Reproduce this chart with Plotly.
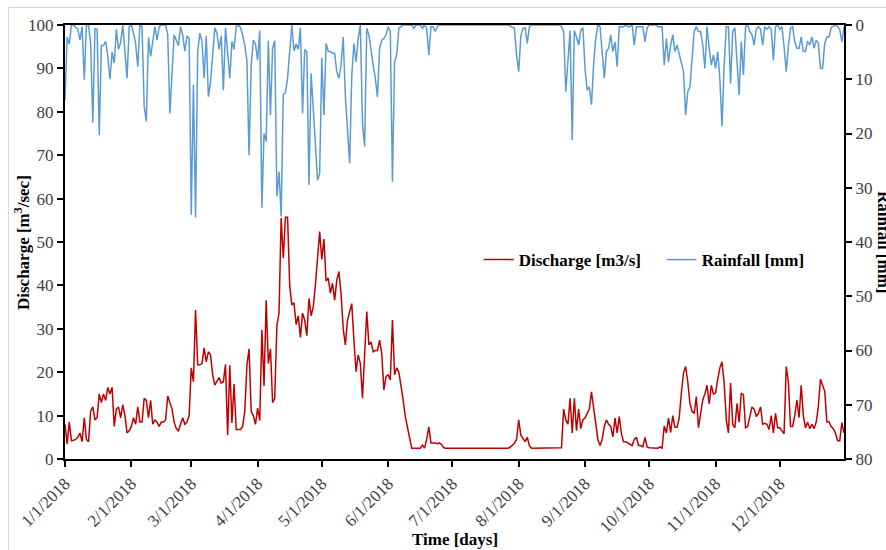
import pandas as pd
import plotly.graph_objects as go

# Daily discharge [m3/s], one list per month of 2018
dis_jan = [8.0, 3.5, 8.5, 4.2, 4.3, 4.5, 5.0, 6.0, 4.0, 9.5, 4.5, 4.0, 11.0, 12.0, 9.0, 9.5,
           15.0, 13.0, 15.0, 13.5, 16.5, 15.0, 16.5, 7.5, 11.5, 12.0, 9.5, 12.5, 10.0, 6.0, 6.5]
dis_feb = [7.5, 9.5, 8.0, 12.0, 8.5, 8.5, 14.0, 13.5, 9.5, 13.5, 8.0, 9.0, 8.5, 7.5, 8.5, 8.5,
           9.0, 14.5, 13.0, 11.5, 8.5, 7.0, 6.5, 8.0, 9.5, 8.0, 8.5, 10.0]
dis_mar = [21.0, 17.8, 34.3, 21.7, 21.7, 22.0, 25.6, 22.4, 24.7, 24.0, 19.4, 17.0, 18.0, 18.8,
           17.5, 17.8, 21.8, 5.5, 21.6, 8.3, 17.3, 6.8, 6.8, 6.8, 7.5, 10.9, 21.6, 25.4, 11.0,
           10.0, 8.0]
dis_apr = [11.7, 8.9, 29.7, 16.8, 36.6, 22.0, 25.4, 13.0, 14.0, 30.7, 33.6, 55.5, 46.3, 55.7,
           55.7, 40.0, 35.5, 36.0, 31.0, 33.0, 28.0, 33.6, 32.0, 28.4, 37.0, 33.0, 35.0, 40.0,
           46.0, 52.4]
dis_may = [46.0, 50.7, 41.0, 41.7, 38.2, 40.5, 36.6, 41.2, 43.2, 38.0, 30.0, 26.3, 32.0, 34.3,
           35.8, 27.4, 20.1, 24.0, 22.0, 14.0, 25.6, 34.0, 26.3, 27.0, 24.7, 25.0, 25.0, 27.4,
           24.3, 15.9, 19.0]
dis_jun = [19.4, 18.2, 32.0, 19.4, 21.0, 20.0, 17.0, 13.6, 9.8, 7.5, 4.5, 2.5, 2.5, 2.5, 2.5,
           2.5, 3.2, 2.5, 4.5, 7.4, 3.7, 3.7, 3.7, 3.5, 3.7, 3.3, 2.6, 2.5, 2.5, 2.5]
dis_jul = [2.5] * 27 + [2.7, 3.2, 3.6, 4.5]
dis_aug = [9.0, 5.5, 4.8, 4.0, 5.0, 3.0, 2.5] + [2.5] * 13 + \
          [2.6, 11.5, 9.0, 8.0, 14.0, 6.0, 14.0, 6.5, 11.5, 7.0, 9.0]
dis_sep = [9.5, 10.5, 11.5, 15.5, 12.0, 8.4, 4.5, 3.1, 4.5, 7.5, 9.0, 8.0, 7.5, 5.1, 9.4, 6.0,
           9.8, 5.8, 4.0, 4.0, 3.6, 3.4, 3.1, 4.5, 5.0, 3.1, 3.1, 2.8, 5.0, 2.8]
dis_oct = [2.6, 2.6, 2.5, 2.5, 2.5, 2.8, 2.5, 7.6, 6.0, 9.4, 6.1, 10.0, 7.3, 7.3, 9.5, 15.2,
           19.8, 21.3, 17.8, 12.8, 11.0, 10.5, 14.4, 7.2, 10.0, 13.6, 15.0, 17.0, 12.7, 17.0, 15.0]
dis_nov = [15.2, 18.4, 21.0, 22.4, 17.5, 9.0, 6.0, 17.5, 8.0, 7.2, 12.8, 8.5, 15.2, 14.8, 7.2,
           7.5, 9.8, 12.0, 11.5, 9.8, 10.5, 12.0, 8.0, 8.2, 8.0, 6.8, 10.0, 6.0, 10.5, 7.2]
dis_dec = [7.2, 6.5, 5.8, 21.3, 17.8, 7.5, 7.5, 10.0, 13.6, 9.5, 17.0, 10.0, 7.2, 8.5, 7.0, 8.0,
           7.0, 8.5, 12.0, 18.4, 17.0, 15.6, 8.6, 8.6, 7.5, 7.0, 6.0, 4.2, 4.2, 8.4, 6.0]

# Daily rainfall [mm], one list per month of 2018
rain_jan = [13.8, 2.2, 3.5, 0, 0, 0.5, 0.8, 2.8, 0.3, 10.1, 0, 0, 3.4, 18.0, 0.7, 0.8, 20.3,
            3.8, 3.8, 3.0, 5.8, 10.0, 5.0, 7.0, 0.8, 4.5, 3.2, 0, 4.8, 9.8, 0.3]
rain_feb = [0, 1.5, 3.4, 7.7, 0, 0.3, 15.0, 17.8, 2.3, 5.8, 3.4, 0.3, 2.8, 0.3, 0, 0, 0, 1.8,
            16.3, 9.0, 1.8, 2.8, 3.8, 0.3, 1.8, 4.8, 2.0, 2.5]
rain_mar = [35.0, 11.0, 35.5, 5.0, 1.5, 3.0, 9.8, 2.0, 13.2, 10.5, 6.0, 0.5, 1.5, 4.5, 2.0,
            12.0, 0.5, 5.5, 9.8, 3.0, 4.5, 0.3, 0, 0.5, 1.8, 3.8, 6.5, 24.0, 7.5, 2.8, 3.5]
rain_apr = [6.5, 1.0, 33.7, 20.0, 21.5, 2.9, 16.6, 4.3, 2.9, 31.6, 27.0, 35.3, 12.8, 12.5, 9.8,
            4.5, 0, 4.8, 3.5, 4.5, 0.5, 16.3, 4.5, 5.0, 29.5, 8.9, 15.0, 22.4, 28.6, 27.4]
rain_may = [6.0, 16.6, 3.4, 4.9, 4.9, 5.2, 5.2, 8.6, 9.8, 7.4, 2.2, 13.0, 19.4, 25.5, 9.3, 3.4,
            6.8, 2.5, 0, 18.1, 22.4, 0.6, 1.8, 4.9, 7.4, 9.8, 13.3, 4.3, 2.8, 2.5, 1.8]
rain_jun = [0.3, 1.2, 28.9, 6.8, 5.5, 0.6, 0.3, 0, 0, 0, 0, 0, 0.6, 0, 0, 0, 0.6, 0, 0.6, 5.5,
            0.3, 0.3, 1.2, 0.3, 0, 0, 0, 0, 0, 0]
rain_jul = [0] * 27 + [0.2, 0.4, 0.6, 5.5]
rain_aug = [8.6, 2.0, 0.6, 0.5, 3.4, 0.3, 0] + [0] * 13 + \
           [0.3, 1.2, 12.3, 6.8, 1.0, 21.2, 1.0, 2.2, 3.7, 1.0, 0.5]
rain_sep = [8.0, 12.0, 11.4, 14.7, 7.4, 2.5, 0, 0.3, 4.9, 9.8, 4.9, 4.3, 1.8, 4.9, 3.1, 7.7,
            0.3, 0.3, 0.3, 0, 0.3, 0.3, 0, 3.7, 0.3, 0.3, 0.3, 0.3, 3.1, 0.5]
rain_oct = [0, 0, 0, 0, 0.3, 0.3, 0.3, 7.4, 2.5, 6.8, 3.7, 1.8, 4.9, 3.7, 5.5, 6.8, 8.6, 16.6,
            12.3, 11.4, 6.5, 1.2, 0.3, 1.2, 1.2, 3.7, 8.0, 0.3, 4.3, 7.4, 5.5]
rain_nov = [8.0, 4.9, 10.0, 18.7, 7.4, 0.3, 0.3, 10.8, 1.2, 0.5, 7.4, 12.9, 3.1, 9.2, 0.3, 0,
            1.2, 1.8, 3.7, 0.8, 0.3, 0.8, 3.7, 0.3, 0.8, 0.3, 0.8, 6.5, 0.3, 0]
rain_dec = [0.8, 0.3, 4.0, 8.6, 4.0, 0.6, 0.3, 3.1, 4.3, 4.3, 2.2, 4.9, 4.9, 3.0, 3.7, 2.2, 4.3,
            2.8, 3.4, 8.0, 8.0, 3.4, 2.2, 2.2, 0.5, 0.3, 0, 0.3, 0.8, 3.1, 0.3]

# Month-start ticks on the time axis
tick_dates = ["2018-%02d-01" % m for m in range(1, 13)]
tick_labels = ["%d/1/2018" % m for m in range(1, 13)]

discharge = (dis_jan + dis_feb + dis_mar + dis_apr + dis_may + dis_jun +
             dis_jul + dis_aug + dis_sep + dis_oct + dis_nov + dis_dec)
rainfall = (rain_jan + rain_feb + rain_mar + rain_apr + rain_may + rain_jun +
            rain_jul + rain_aug + rain_sep + rain_oct + rain_nov + rain_dec)
dates = pd.date_range("2018-01-01", "2018-12-31", freq="D")

FONT = "Liberation Serif"
TICK_FONT = dict(family=FONT, size=17, color="#404040")
TITLE_FONT = dict(family=FONT, size=17, color="#000000", weight="bold")

fig = go.Figure()
fig.add_trace(go.Scatter(x=dates, y=discharge, name="Discharge [m3/s]", mode="lines",
                         line=dict(color="#C00000", width=1.5)))
fig.add_trace(go.Scatter(x=dates, y=rainfall, name="Rainfall [mm]", mode="lines", yaxis="y2",
                         line=dict(color="#5B9BD5", width=1.5)))

axis_common = dict(showgrid=False, zeroline=False, showline=True, linecolor="#000000",
                   linewidth=2, ticks="outside", ticklen=6, tickwidth=1.5,
                   tickcolor="#000000", tickfont=TICK_FONT)

fig.update_layout(
    width=886, height=550,
    margin=dict(l=65, r=42, t=25, b=91),
    paper_bgcolor="#FFFFFF", plot_bgcolor="#FFFFFF",
    font=dict(family=FONT),
    xaxis=dict(type="date", range=["2018-01-01", "2018-12-31"], tickvals=tick_dates,
               ticktext=tick_labels, tickangle=-45, mirror=True, **axis_common),
    yaxis=dict(range=[0, 100], dtick=10, **axis_common),
    yaxis2=dict(range=[80, 0], dtick=10, overlaying="y", side="right", **axis_common),
    legend=dict(orientation="h", x=0.531, y=0.4585, xanchor="left", yanchor="middle",
                bgcolor="rgba(0,0,0,0)", font=TITLE_FONT, itemwidth=30,
                entrywidth=138, entrywidthmode="pixels"),
    showlegend=True,
)

# Axis titles
fig.add_annotation(text="Discharge [m<sup>3</sup>/sec]", xref="paper", yref="paper",
                   x=-0.0552, y=0.5, textangle=-90, showarrow=False, font=TITLE_FONT,
                   xanchor="center", yanchor="middle")
fig.add_annotation(text="Time [days]", xref="paper", yref="paper", x=0.5, y=-0.1866,
                   showarrow=False, font=TITLE_FONT, xanchor="center", yanchor="middle")
fig.add_annotation(text="Rainfall [mm]", xref="paper", yref="paper", x=1.0513, y=0.5,
                   textangle=90, showarrow=False, font=TITLE_FONT,
                   xanchor="center", yanchor="middle")

# Chart-area frame
fig.add_shape(type="rect", xref="paper", yref="paper", x0=-0.0725, y0=-0.3, x1=1.2, y1=1.0403,
              line=dict(color="#D9D9D9", width=1), fillcolor="rgba(0,0,0,0)", layer="below")

fig.write_html("out.html")
